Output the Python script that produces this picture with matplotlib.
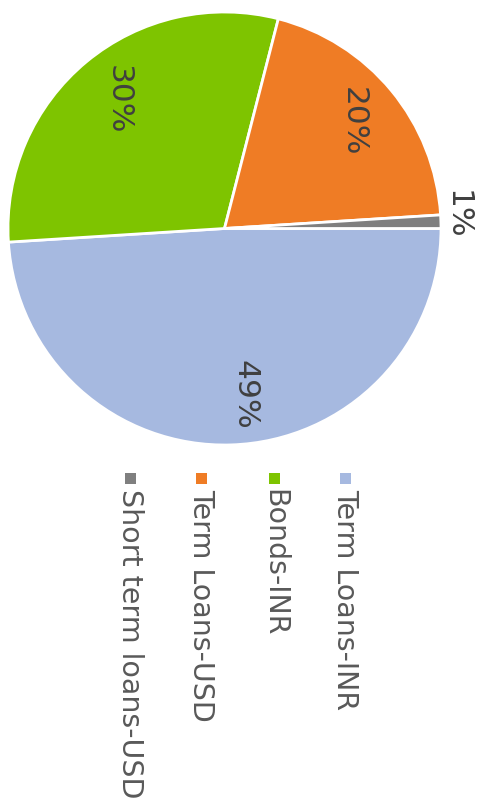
import matplotlib
matplotlib.use("Agg")
import matplotlib.pyplot as plt
from matplotlib.patches import Rectangle
import numpy as np

categories = ["Term Loans-INR", "Bonds-INR", "Term Loans-USD", "Short term loans-USD"]
values = [49, 30, 20, 1]
colors = ["#A6B9E0", "#7EC400", "#EF7C25", "#7F7F7F"]

W, H = 478, 809
fig = plt.figure(figsize=(W / 100, H / 100), dpi=100)
fig.patch.set_facecolor("white")

# pie geometry (pixels)
cx, cy, R = 224.5, 228.5, 216.5
ax = fig.add_axes([0, 0, 1, 1])
wedges, texts, autotexts = ax.pie(
    values, colors=colors, startangle=0, counterclock=False,
    autopct=lambda p: f"{p:.0f}%", pctdistance=0.77,
    wedgeprops=dict(edgecolor="white", linewidth=2),
    textprops=dict(fontsize=22.5, color="#404040", rotation=-90,
                   family="DejaVu Sans"),
)
for t in autotexts:
    t.set_ha("center")
    t.set_va("center")
# small slice label placed outside
x, y = autotexts[3].get_position()
autotexts[3].set_position((x / 0.77 * 1.075, y / 0.77 * 1.075 + 0.03))
x, y = autotexts[0].get_position()
autotexts[0].set_position((x + 0.07, y))

ax.set_xlim(-cx / R, (W - cx) / R)
ax.set_ylim(-(H - cy) / R, cy / R)
ax.set_aspect("auto")
ax.axis("off")

# rotated legend
col_x = [345, 274, 201, 130]
for cat, col, px in zip(categories, colors, col_x):
    fig.add_artist(Rectangle(((px - 5.5) / W, 1 - 484 / H), 11 / W, 11 / H,
                             transform=fig.transFigure, facecolor=col,
                             edgecolor="none"))
    fig.text(px / W, 1 - 489 / H, cat, rotation=-90, ha="center", va="top",
             fontsize=20.5, color="#595959", family="DejaVu Sans")

fig.savefig("out.png", dpi=100, facecolor="white")
